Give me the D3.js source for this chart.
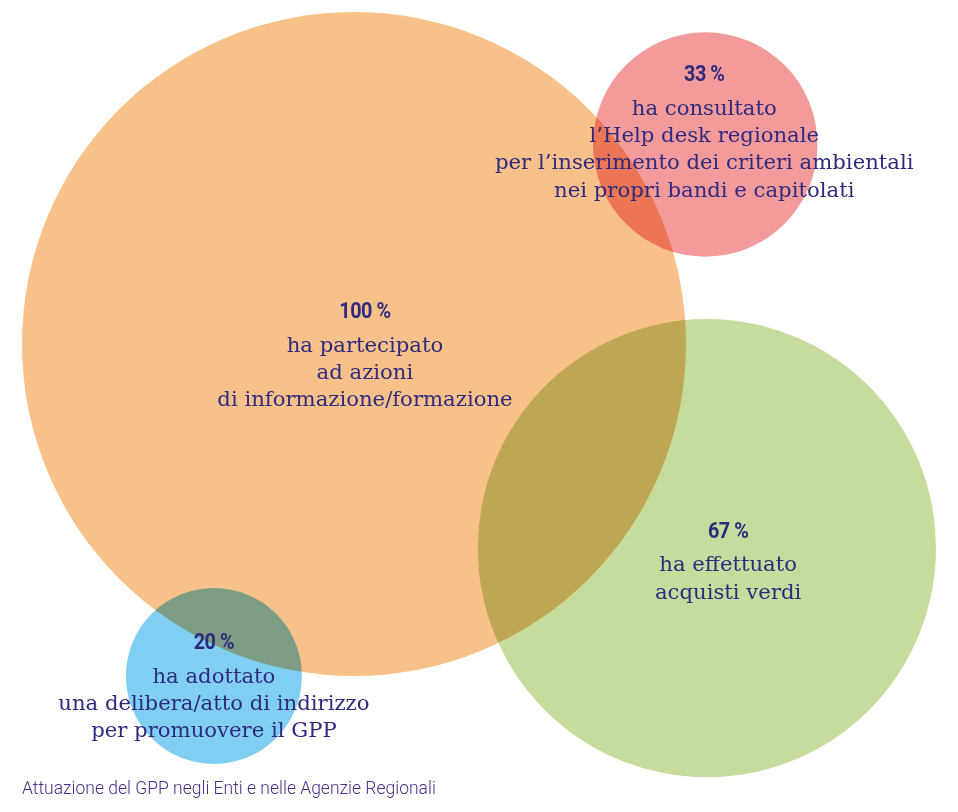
<!DOCTYPE html>
<html>
<head>
<meta charset="utf-8">
<script src="https://cdn.jsdelivr.net/npm/d3@7"></script>
<style>
	html, body { margin: 0; padding: 0; background: #fff; }
	#chart { width: 958px; height: 812px; }
</style>
</head>
<body>
<div id="chart"></div>
<script>
// values
var groups = ["informazione", "helpdesk", "acquisti", "delibera"];
var percents = [100, 33, 67, 20];
var descriptions = [
	["ha partecipato", "ad azioni", "di informazione/formazione"],
	["ha consultato", "l\u2019Help desk regionale", "per l\u2019inserimento dei criteri ambientali", "nei propri bandi e capitolati"],
	["ha effettuato", "acquisti verdi"],
	["ha adottato", "una delibera/atto di indirizzo", "per promuovere il GPP"]
];
var caption = "Attuazione del GPP negli Enti e nelle Agenzie Regionali";

// layout (in units of the big circle radius), kept apart from the data
var layoutX = [0, 1.058, 1.063, -0.422];
var layoutY = [0, -0.601, 0.615, 1.0];
var layoutR = [1, 0.338, 0.69, 0.265];
var labelDX = [0.033, -0.003, 0.064, 0];
var labelDY = [-0.078, -0.19, -0.031, -0.081];
var colors = ["#f8c18a", "#f29b9a", "#c5dc9c", "#80cff2"];

function NetChart(el) {
	var self = this;
	self._panel = el || "#chart";
	self.width = 958;
	self.height = 812;

	self.Render = function() {
		var svg = d3.select(self._panel).append("svg")
			.attr("width", self.width)
			.attr("height", self.height);

		var x = d3.scaleLinear().domain([-1, 1]).range([22, 686]);
		var y = d3.scaleLinear().domain([-1, 1]).range([12, 676]);
		var r = d3.scaleLinear().domain([0, 1]).range([0, 332]);

		var data = groups.map(function(g, i) {
			return { key: g, pct: percents[i], lines: descriptions[i], i: i };
		});

		var circles = svg.append("g").style("isolation", "isolate");
		circles.selectAll("circle").data(data).enter().append("circle")
			.attr("cx", function(d) { return x(layoutX[d.i]); })
			.attr("cy", function(d) { return y(layoutY[d.i]); })
			.attr("r", function(d) { return r(layoutR[d.i]); })
			.attr("fill", function(d) { return colors[d.i]; })
			.style("mix-blend-mode", "multiply");

		var labels = svg.selectAll("g.label").data(data).enter().append("g")
			.attr("class", "label")
			.attr("transform", function(d) {
				return "translate(" + x(layoutX[d.i] + labelDX[d.i]) + "," + y(layoutY[d.i] + labelDY[d.i]) + ")";
			});

		labels.append("text")
			.attr("text-anchor", "middle")
			.attr("font-family", "Roboto, sans-serif")
			.attr("font-weight", 700)
			.attr("font-size", 22.5)
			.attr("letter-spacing", -0.5)
			.attr("fill", "#2e2a7f")
			.attr("transform", "scale(0.88,1)")
			.text(function(d) { return d.pct + " %"; });

		labels.each(function(d) {
			var g = d3.select(this);
			d.lines.forEach(function(line, k) {
				g.append("text")
					.attr("text-anchor", "middle")
					.attr("y", 33.5 + k * 27.3)
					.attr("font-family", "'DejaVu Serif', serif")
					.attr("font-size", 21.2)
					.attr("fill", "#2e2a7f")
					.text(line);
			});
		});

		svg.append("text")
			.attr("x", 22)
			.attr("y", 794)
			.attr("font-family", "Roboto, sans-serif")
			.attr("font-weight", 300)
			.attr("font-size", 18.3)
			.attr("fill", "#4b2d8f")
			.attr("transform", "translate(22,0) scale(0.957,1) translate(-22,0)")
			.text(caption);
	};
}

var chart = new NetChart("#chart");
chart.Render();
</script>
</body>
</html>
